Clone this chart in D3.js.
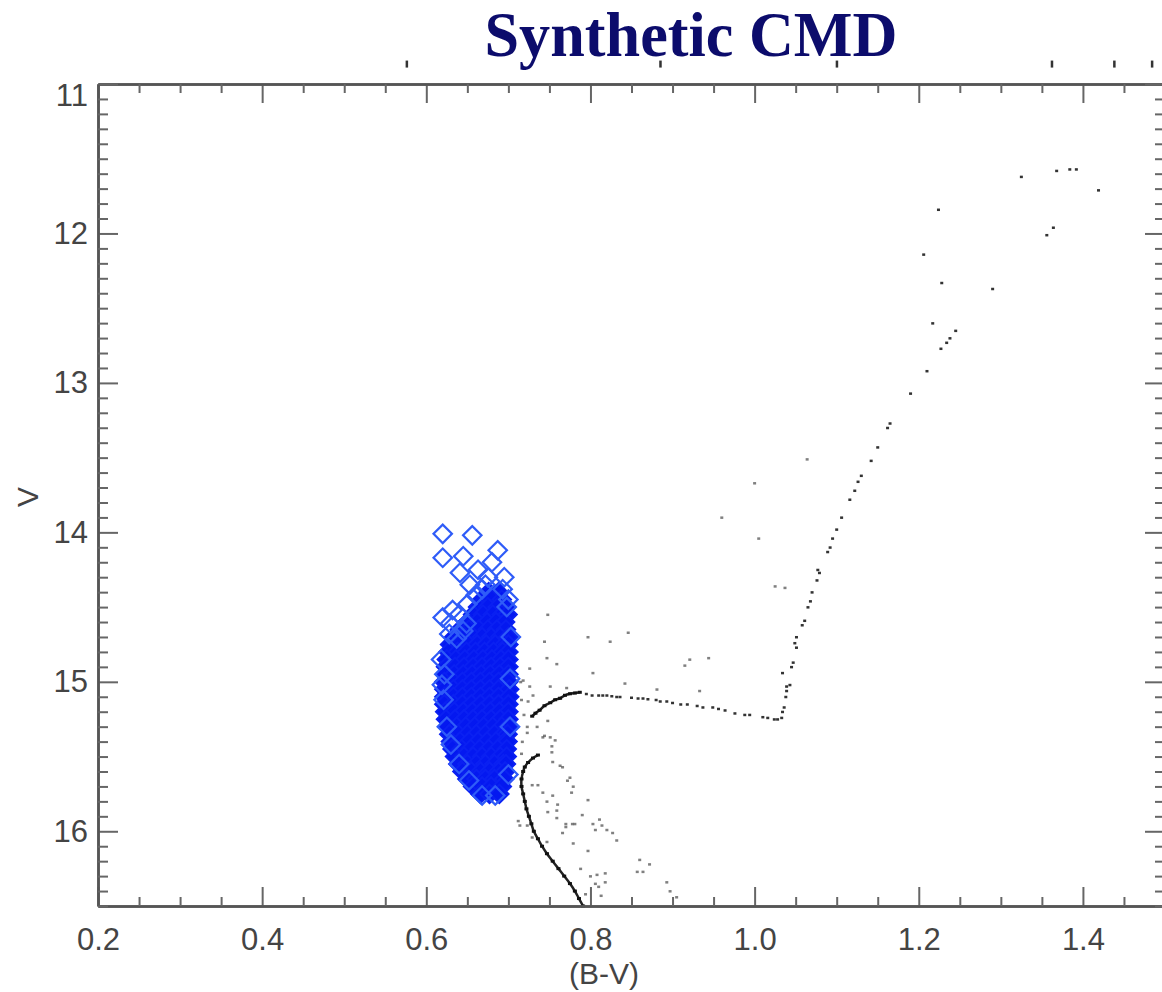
<!DOCTYPE html>
<html>
<head>
<meta charset="utf-8">
<script src="https://cdn.jsdelivr.net/npm/d3@7"></script>
<style>
  body { margin: 0; background: #fff; }
  svg { display: block; overflow: hidden; }
  .tick text { font-family: "Liberation Sans Narrow", "Liberation Sans", sans-serif; font-size: 31px; fill: #444; }
</style>
</head>
<body>
<div id="chart"></div>
<script>
// axis ticks
const xMajor = [0.2, 0.4, 0.6, 0.8, 1.0, 1.2, 1.4];
const yMajor = [11, 12, 13, 14, 15, 16];

// blue selected stars, dense core: [V, [B-V ...]]
const coreRows = [
  [14.40, [0.676, 0.688]],
  [14.45, [0.668, 0.680, 0.692]],
  [14.50, [0.663, 0.675, 0.687, 0.697]],
  [14.55, [0.657, 0.669, 0.681, 0.692, 0.699]],
  [14.60, [0.650, 0.662, 0.674, 0.685, 0.696]],
  [14.65, [0.641, 0.652, 0.664, 0.675, 0.686, 0.697]],
  [14.70, [0.634, 0.646, 0.657, 0.668, 0.679, 0.690, 0.700]],
  [14.75, [0.629, 0.640, 0.651, 0.662, 0.673, 0.684, 0.695, 0.700]],
  [14.80, [0.627, 0.638, 0.649, 0.660, 0.671, 0.682, 0.693, 0.700]],
  [14.85, [0.625, 0.636, 0.647, 0.658, 0.669, 0.680, 0.691, 0.700]],
  [14.90, [0.624, 0.635, 0.646, 0.657, 0.668, 0.679, 0.690, 0.700]],
  [14.95, [0.623, 0.634, 0.645, 0.656, 0.667, 0.678, 0.689, 0.700]],
  [15.00, [0.622, 0.633, 0.644, 0.655, 0.666, 0.677, 0.688, 0.700]],
  [15.05, [0.622, 0.633, 0.644, 0.655, 0.666, 0.677, 0.688, 0.701]],
  [15.10, [0.622, 0.633, 0.644, 0.655, 0.666, 0.677, 0.688, 0.701]],
  [15.15, [0.622, 0.633, 0.644, 0.655, 0.666, 0.677, 0.688, 0.700]],
  [15.20, [0.623, 0.634, 0.645, 0.656, 0.667, 0.678, 0.689, 0.700]],
  [15.25, [0.624, 0.635, 0.646, 0.657, 0.668, 0.679, 0.690, 0.700]],
  [15.30, [0.626, 0.637, 0.648, 0.659, 0.670, 0.681, 0.692, 0.700]],
  [15.35, [0.628, 0.639, 0.650, 0.661, 0.672, 0.683, 0.694, 0.699]],
  [15.40, [0.630, 0.641, 0.652, 0.663, 0.674, 0.685, 0.696, 0.699]],
  [15.45, [0.632, 0.643, 0.654, 0.665, 0.676, 0.687, 0.698]],
  [15.50, [0.635, 0.646, 0.657, 0.668, 0.679, 0.690, 0.698]],
  [15.55, [0.639, 0.650, 0.661, 0.672, 0.683, 0.694, 0.697]],
  [15.60, [0.644, 0.655, 0.666, 0.677, 0.688, 0.696]],
  [15.65, [0.650, 0.661, 0.672, 0.683, 0.695]],
  [15.70, [0.657, 0.668, 0.679, 0.692]],
  [15.75, [0.666, 0.677, 0.689]]
];

// blue selected stars, loose ones: [B-V, V]
const blueLoose = [
  [0.620, 14.01], [0.656, 14.02], [0.620, 14.17], [0.645, 14.16], [0.687, 14.12],
  [0.663, 14.25], [0.675, 14.30], [0.641, 14.27], [0.680, 14.20], [0.693, 14.38],
  [0.653, 14.35], [0.668, 14.38], [0.620, 14.57], [0.632, 14.52], [0.649, 14.61],
  [0.629, 14.61], [0.698, 14.50], [0.640, 14.55], [0.645, 14.66], [0.628, 14.68],
  [0.637, 14.71], [0.650, 14.48], [0.660, 14.42], [0.672, 14.35], [0.695, 14.30],
  [0.700, 14.45], [0.619, 15.02], [0.621, 15.12], [0.622, 14.95], [0.625, 15.30],
  [0.630, 15.42], [0.640, 15.55], [0.652, 15.66], [0.668, 15.76], [0.684, 15.76],
  [0.700, 15.62], [0.702, 15.30], [0.702, 14.98], [0.703, 14.70], [0.618, 14.85]
];

// main sequence ridge and lower subgiant branch: [B-V, V]
const msRidge = [
  [0.736, 15.49], [0.730, 15.51], [0.724, 15.54], [0.720, 15.57], [0.718, 15.60],
  [0.716, 15.65], [0.716, 15.70], [0.718, 15.75], [0.720, 15.80], [0.722, 15.85],
  [0.725, 15.90], [0.728, 15.95], [0.731, 16.00], [0.736, 16.05], [0.741, 16.10],
  [0.747, 16.15], [0.754, 16.20], [0.761, 16.25], [0.768, 16.30], [0.775, 16.35],
  [0.781, 16.40], [0.786, 16.45], [0.791, 16.50]
];
const sgbRidge = [
  [0.729, 15.23], [0.733, 15.21], [0.738, 15.19], [0.744, 15.16], [0.751, 15.14],
  [0.757, 15.12], [0.763, 15.11], [0.769, 15.09], [0.775, 15.08], [0.781, 15.075],
  [0.787, 15.07]
];

// subgiant branch and red giant branch stars: [B-V, V]
const giants = [
  [0.795, 15.08], [0.802, 15.09], [0.810, 15.09], [0.815, 15.09], [0.820, 15.09],
  [0.826, 15.095], [0.832, 15.10], [0.836, 15.10], [0.850, 15.105], [0.858, 15.11],
  [0.864, 15.11], [0.870, 15.115], [0.880, 15.12], [0.885, 15.13], [0.893, 15.13],
  [0.900, 15.14], [0.910, 15.15], [0.918, 15.15], [0.930, 15.16], [0.937, 15.17],
  [0.949, 15.17], [0.956, 15.18], [0.964, 15.19], [0.976, 15.21], [0.988, 15.22],
  [0.994, 15.22], [1.010, 15.235], [1.016, 15.24], [1.024, 15.25], [1.028, 15.25],
  [1.033, 15.24], [1.034, 15.20], [1.036, 15.17], [1.038, 15.10], [1.039, 15.06],
  [1.039, 15.03], [1.043, 15.02], [1.034, 14.94], [1.045, 14.90], [1.047, 14.87],
  [1.051, 14.77], [1.049, 14.74], [1.051, 14.70], [1.058, 14.62], [1.061, 14.59],
  [1.065, 14.50], [1.068, 14.46], [1.070, 14.40], [1.076, 14.32], [1.077, 14.25],
  [1.079, 14.27], [1.089, 14.13], [1.092, 14.10], [1.095, 14.04], [1.100, 13.98],
  [1.106, 13.90], [1.116, 13.78], [1.122, 13.72], [1.126, 13.66], [1.130, 13.62],
  [1.142, 13.52], [1.150, 13.43], [1.162, 13.30], [1.165, 13.27], [1.190, 13.07],
  [1.210, 12.92], [1.227, 12.77], [1.234, 12.73], [1.238, 12.70], [1.245, 12.65],
  [1.217, 12.60], [1.290, 12.37], [1.228, 12.33], [1.206, 12.14], [1.356, 12.01],
  [1.364, 11.96], [1.224, 11.84], [1.325, 11.62], [1.368, 11.58], [1.384, 11.57],
  [1.392, 11.57], [1.419, 11.71]
];

// binaries and field stars around the turnoff: [B-V, V]
const field = [
  [0.748, 14.55], [0.744, 14.73], [0.797, 14.70], [0.824, 14.73], [0.846, 14.67],
  [0.747, 14.84], [0.759, 14.88], [0.803, 14.94], [0.726, 14.91], [0.718, 14.99],
  [0.726, 15.03], [0.751, 15.03], [0.771, 15.04], [0.842, 15.01], [0.881, 15.05],
  [0.915, 14.89], [0.921, 14.85], [0.944, 14.84], [0.933, 15.06], [0.730, 15.09],
  [0.724, 15.13], [0.723, 15.30], [0.748, 15.26], [0.723, 15.34], [0.744, 15.36],
  [0.960, 13.90], [1.005, 14.04], [1.025, 14.36], [1.037, 14.37], [1.064, 13.51],
  [1.000, 13.67], [0.742, 15.37], [0.751, 15.37], [0.757, 15.39], [0.753, 15.43],
  [0.753, 15.47], [0.754, 15.535], [0.766, 15.57], [0.775, 15.64], [0.779, 15.70],
  [0.736, 15.69], [0.729, 15.69], [0.742, 15.74], [0.754, 15.76], [0.747, 15.80],
  [0.748, 15.87], [0.759, 15.86], [0.759, 15.91], [0.790, 15.89], [0.797, 15.79],
  [0.811, 15.92], [0.814, 15.96], [0.820, 15.99], [0.827, 16.01], [0.832, 16.06],
  [0.714, 15.96], [0.712, 15.93], [0.723, 15.96], [0.729, 16.04], [0.747, 16.07],
  [0.766, 16.01], [0.779, 16.08], [0.797, 16.13], [0.860, 16.19], [0.872, 16.22],
  [0.857, 16.27], [0.864, 16.27], [0.893, 16.34], [0.897, 16.40], [0.905, 16.44],
  [0.818, 16.34], [0.806, 16.35], [0.810, 16.37], [0.794, 16.42], [0.813, 16.43],
  [0.788, 16.25], [0.800, 16.30], [0.808, 16.29], [0.818, 16.28], [0.763, 15.56],
  [0.772, 15.66], [0.777, 15.74], [0.760, 15.82], [0.770, 15.95], [0.778, 15.95],
  [0.781, 15.95], [0.803, 15.95], [0.806, 15.99], [0.770, 15.97], [0.715, 15.00],
  [0.716, 15.12], [0.717, 15.40], [0.716, 15.48], [0.719, 15.22], [0.735, 15.30]
];

// stray marks just above the frame: [B-V, V]
const topMarks = [[0.576, 10.87], [0.885, 10.87], [1.100, 10.87], [1.362, 10.87], [1.438, 10.87], [1.484, 10.87]];

const width = 1162, height = 992;
const svg = d3.select('#chart').append('svg')
  .attr('width', width)
  .attr('height', height);

const x = d3.scaleLinear().domain([0.2, 1.5]).range([98, 1165]);
const y = d3.scaleLinear().domain([11, 16.5]).range([84, 906]);

// title
svg.append('text')
  .attr('x', 691).attr('y', 56)
  .attr('text-anchor', 'middle')
  .attr('textLength', 413)
  .attr('lengthAdjust', 'spacingAndGlyphs')
  .style('font-family', '"Liberation Serif", "Times New Roman", serif')
  .style('font-weight', 'bold')
  .style('font-size', '64px')
  .style('fill', '#0c0c6c')
  .text('Synthetic CMD');

svg.append('g').selectAll('rect')
  .data(topMarks)
  .join('rect')
  .attr('x', d => x(d[0]) - 1)
  .attr('y', d => y(d[1]) - 4)
  .attr('width', 2.5).attr('height', 7)
  .attr('fill', '#333');

// blue stars
const diamond = d3.symbol(d3.symbolSquare, 170);
const blue = svg.append('g');
const corePts = coreRows.flatMap(r => r[1].map(b => [b, r[0]]));
blue.selectAll('path.core')
  .data(corePts)
  .join('path')
  .attr('class', 'core')
  .attr('d', diamond)
  .attr('transform', d => `translate(${x(d[0])},${y(d[1])}) rotate(45)`)
  .attr('fill', '#0418f0')
  .attr('stroke', '#0a20f2')
  .attr('stroke-width', 2);
blue.selectAll('path.loose')
  .data(blueLoose)
  .join('path')
  .attr('class', 'loose')
  .attr('d', diamond)
  .attr('transform', d => `translate(${x(d[0])},${y(d[1])}) rotate(45)`)
  .attr('fill', 'none')
  .attr('stroke', '#2f5cf8')
  .attr('stroke-width', 2.2);

// black stars
const line = d3.line().x(d => x(d[0])).y(d => y(d[1])).curve(d3.curveCatmullRom);
[msRidge, sgbRidge].forEach(r => {
  svg.append('path')
    .attr('d', line(r))
    .attr('fill', 'none')
    .attr('stroke', '#222')
    .attr('stroke-width', 2.5);
});
svg.append('g').selectAll('rect')
  .data(msRidge.concat(sgbRidge))
  .join('rect')
  .attr('x', d => x(d[0]) - 2).attr('y', d => y(d[1]) - 1.5)
  .attr('width', 4).attr('height', 3)
  .attr('fill', '#111');
svg.append('g').selectAll('rect')
  .data(giants)
  .join('rect')
  .attr('x', d => x(d[0]) - 1.5).attr('y', d => y(d[1]) - 1)
  .attr('width', 3).attr('height', 2.5)
  .attr('fill', '#333');
svg.append('g').selectAll('rect')
  .data(field)
  .join('rect')
  .attr('x', d => x(d[0]) - 1.5).attr('y', d => y(d[1]) - 1)
  .attr('width', 3).attr('height', 2.5)
  .attr('fill', '#555')
  .attr('opacity', 0.75);

// axes, ticks point inward
const xMinor = x.ticks(26).filter(t => !xMajor.some(m => Math.abs(m - t) < 1e-6));
const yMinor = y.ticks(55).filter(t => !yMajor.some(m => Math.abs(m - t) < 1e-6));

function styleAxis(g) {
  g.select('.domain').attr('stroke', '#555').attr('stroke-width', 2.5);
  g.selectAll('.tick line').attr('stroke', '#666').attr('stroke-width', 2);
}

svg.append('g').attr('transform', 'translate(0,906)')
  .call(d3.axisBottom(x).tickValues(xMajor).tickSize(-19).tickSizeOuter(0).tickPadding(22).tickFormat(d3.format('.1f')))
  .call(styleAxis);
svg.append('g').attr('transform', 'translate(0,906)')
  .call(d3.axisBottom(x).tickValues(xMinor).tickSize(-9).tickSizeOuter(0).tickFormat(''))
  .call(styleAxis);
svg.append('g').attr('transform', 'translate(0,84)')
  .call(d3.axisTop(x).tickValues(xMajor).tickSize(-19).tickSizeOuter(0).tickFormat(''))
  .call(styleAxis);
svg.append('g').attr('transform', 'translate(0,84)')
  .call(d3.axisTop(x).tickValues(xMinor).tickSize(-9).tickSizeOuter(0).tickFormat(''))
  .call(styleAxis);

const left = svg.append('g').attr('transform', 'translate(98,0)')
  .call(d3.axisLeft(y).tickValues(yMajor).tickSize(-20).tickSizeOuter(0).tickPadding(10).tickFormat(d3.format('d')))
  .call(styleAxis);
left.selectAll('.tick text').filter(d => d === 11).attr('y', 12);
svg.append('g').attr('transform', 'translate(98,0)')
  .call(d3.axisLeft(y).tickValues(yMinor).tickSize(-10).tickSizeOuter(0).tickFormat(''))
  .call(styleAxis);
svg.append('g').attr('transform', 'translate(1165,0)')
  .call(d3.axisRight(y).tickValues(yMajor).tickSize(-20).tickSizeOuter(0).tickFormat(''))
  .call(styleAxis);
svg.append('g').attr('transform', 'translate(1165,0)')
  .call(d3.axisRight(y).tickValues(yMinor).tickSize(-10).tickSizeOuter(0).tickFormat(''))
  .call(styleAxis);

// axis titles
svg.append('text')
  .attr('x', 604).attr('y', 984)
  .attr('text-anchor', 'middle')
  .style('font-family', '"Liberation Sans Narrow", "Liberation Sans", sans-serif')
  .style('font-size', '30px')
  .style('fill', '#444')
  .text('(B-V)');
svg.append('text')
  .attr('transform', 'translate(38,497) rotate(-90)')
  .attr('text-anchor', 'middle')
  .style('font-family', '"Liberation Sans Narrow", "Liberation Sans", sans-serif')
  .style('font-size', '30px')
  .style('fill', '#444')
  .text('V');
</script>
</body>
</html>
